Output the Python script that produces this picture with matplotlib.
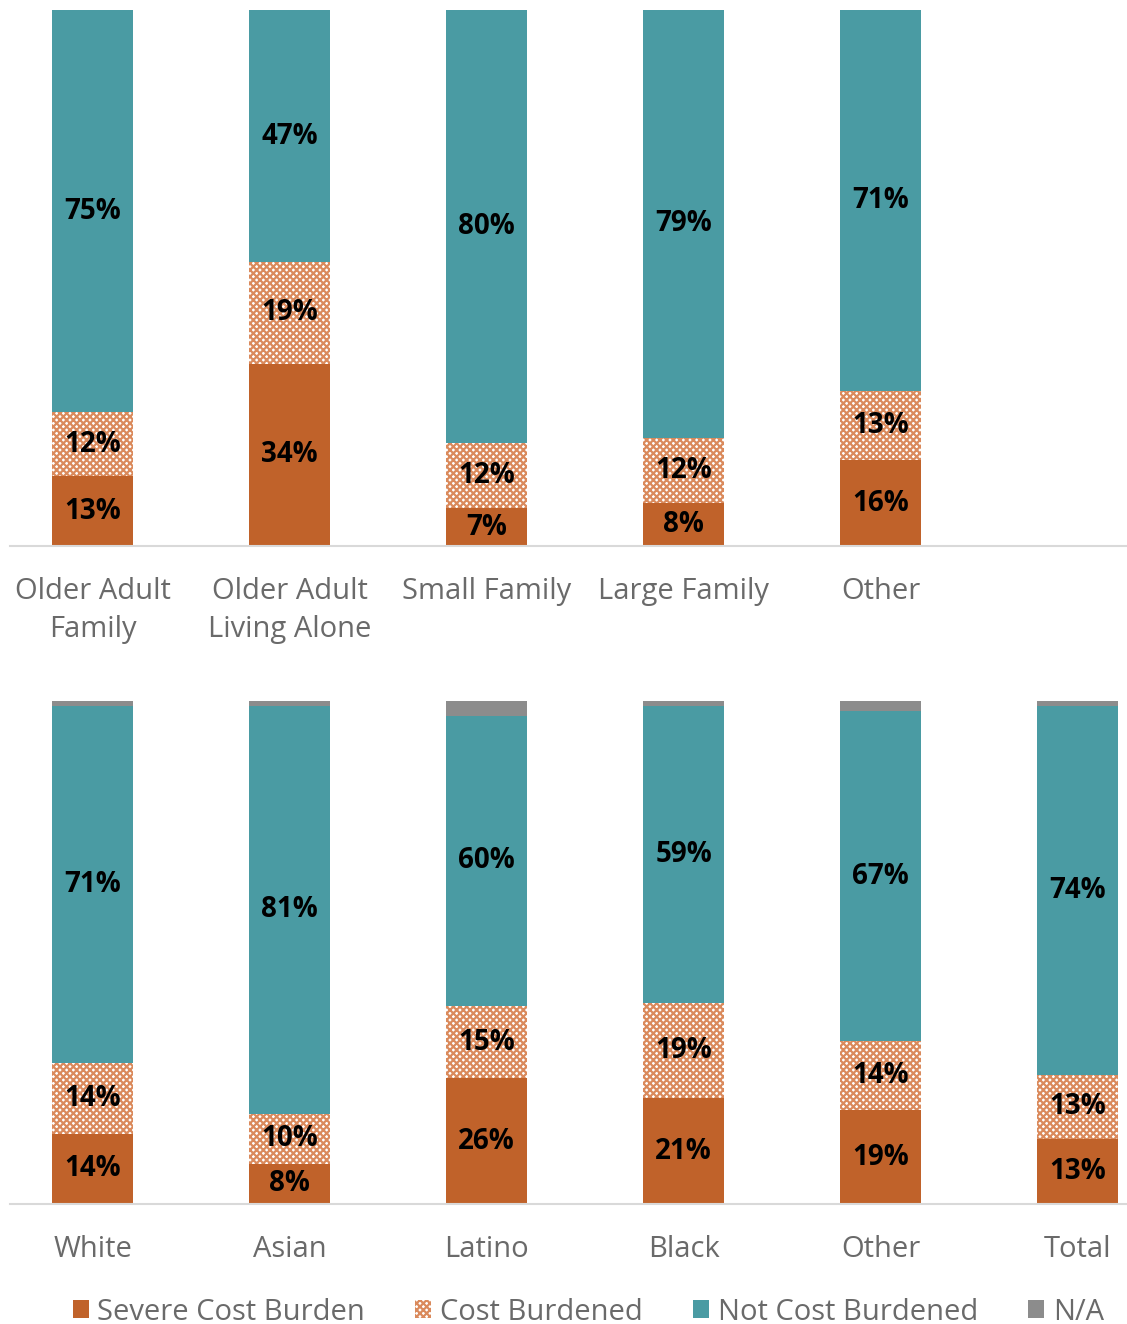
import matplotlib.pyplot as plt
import numpy as np

plt.rcParams["font.family"] = ["Open Sans", "DejaVu Sans"]
plt.rcParams["hatch.linewidth"] = 1.6

# household type (top panel)
type_labels = ["Older Adult\nFamily", "Older Adult\nLiving Alone", "Small Family", "Large Family", "Other"]
type_severe = [13, 34, 7, 8, 16]
type_burdened = [12, 19, 12, 12, 13]
type_not = [75, 47, 80, 79, 71]
type_na = [0, 0, 0, 0, 0]

# race / ethnicity (bottom panel)
race_labels = ["White", "Asian", "Latino", "Black", "Other", "Total"]
race_severe = [14, 8, 26, 21, 19, 13]
race_burdened = [14, 10, 15, 19, 14, 13]
race_not = [71, 81, 60, 59, 67, 74]
race_na = [1, 1, 3, 1, 2, 1]

ORANGE = "#C0622A"
HATCH = "#DA8A5C"
TEAL = "#4A9BA3"
GRAY = "#8C8C8C"
TEXT = "#6A6A6A"


def draw_panel(ax, labels, severe, burdened, notb, na):
    data = np.array([severe, burdened, notb, na], dtype=float)
    share = data / data.sum(axis=0) * 100
    x = np.arange(len(labels))
    width = 0.41
    bottom = np.zeros(len(labels))
    styles = [
        dict(color=ORANGE, linewidth=0),
        dict(facecolor="white", edgecolor=HATCH, hatch="xxxxx", linewidth=0),
        dict(color=TEAL, linewidth=0),
        dict(color=GRAY, linewidth=0),
    ]
    for i, st in enumerate(styles):
        ax.bar(x, share[i], width, bottom=bottom, **st)
        if i < 3:
            for xi, b, h, v in zip(x, bottom, share[i], data[i]):
                if v > 0:
                    ax.text(xi, b + h / 2, f"{int(v)}%", ha="center", va="center",
                            fontsize=20, fontweight="bold", color="black")
        bottom += share[i]

    ax.set_xlim(-0.42, 5.25)
    ax.set_ylim(0, 100)
    ax.set_xticks(x)
    ax.set_xticklabels(labels, fontsize=21, color=TEXT, linespacing=1.45)
    ax.tick_params(axis="x", length=0, pad=22)
    ax.set_yticks([])
    for s in ["top", "left", "right"]:
        ax.spines[s].set_visible(False)
    ax.spines["bottom"].set_color("#D9D9D9")
    ax.spines["bottom"].set_linewidth(1.5)


fig = plt.figure(figsize=(11.27, 13.24), dpi=100)
ax1 = fig.add_axes([0.0089, 0.5876, 0.9911, 0.4048])
ax2 = fig.add_axes([0.0089, 0.0906, 0.9911, 0.3799])

draw_panel(ax1, type_labels, type_severe, type_burdened, type_not, type_na)
draw_panel(ax2, race_labels, race_severe, race_burdened, race_not, race_na)

handles = [
    plt.Rectangle((0, 0), 1, 1, color=ORANGE, linewidth=0),
    plt.Rectangle((0, 0), 1, 1, facecolor="white", edgecolor=HATCH, hatch="xxxxx", linewidth=0),
    plt.Rectangle((0, 0), 1, 1, color=TEAL, linewidth=0),
    plt.Rectangle((0, 0), 1, 1, color=GRAY, linewidth=0),
]
leg = fig.legend(handles, ["Severe Cost Burden", "Cost Burdened", "Not Cost Burdened", "N/A"],
                 loc="center", bbox_to_anchor=(0.522, 0.009), ncol=4, frameon=False,
                 fontsize=21, handlelength=0.55, handleheight=0.55, handletextpad=0.3,
                 columnspacing=1.72)
for t in leg.get_texts():
    t.set_color(TEXT)

fig.savefig("out.png", dpi=100)
